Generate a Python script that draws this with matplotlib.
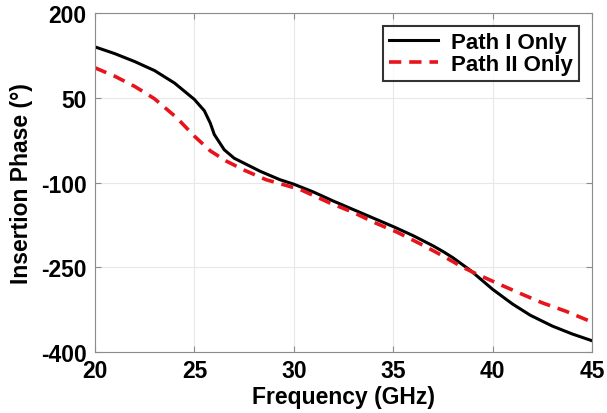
import matplotlib.pyplot as plt
import numpy as np

plt.rcParams['font.family'] = ['Liberation Sans', 'DejaVu Sans']
plt.rcParams['font.weight'] = 'bold'
plt.rcParams['axes.unicode_minus'] = False

# data (frequency in GHz, phase in degrees)
freq_1 = [20, 21, 22, 22.5, 23, 24, 25, 25.5, 25.8, 26.0, 26.5, 27, 28.3, 29.3,
          30, 31, 32, 33, 34, 35, 36, 37, 37.5, 38, 38.9, 40, 41, 41.9, 43, 44, 45]
phase_1 = [140, 128, 114, 106, 98, 76, 47, 27, 5, -15, -42, -57, -80, -95,
           -103, -117, -133, -148, -163, -178, -194, -212, -222, -233, -256, -289,
           -315, -335, -354, -368, -380]
freq_2 = [20, 21, 22, 22.6, 23, 24.1, 25, 25.8, 26.6, 27.5, 28.6, 30.3, 31.8,
          33, 34, 35.2, 36.5, 37.5, 38.5, 39.2, 40.4, 41.5, 42.5, 43.7, 45]
phase_2 = [103, 88, 70, 57, 48, 15, -18, -44, -62, -78, -95, -112, -136,
           -153, -170, -188, -211, -230, -250, -262, -281, -298, -313, -328, -347]

fig = plt.figure(figsize=(6.07, 4.14), dpi=100)
ax = fig.add_axes([0.1565, 0.1473, 0.8188, 0.8189])

ax.plot(freq_1, phase_1, color='black', lw=2.2, label='Path I Only')
ax.plot(freq_2, phase_2, color='#e8141c', lw=2.6, ls=(0, (3.4, 2.2)), label='Path II Only')

ax.set_xlim(20, 45)
ax.set_ylim(-400, 200)
ax.set_xticks([20, 25, 30, 35, 40, 45])
ax.set_yticks([-400, -250, -100, 50, 200])
ax.grid(True, color='#e8e8e8', lw=0.8)
ax.set_axisbelow(True)
for s in ax.spines.values():
    s.set_color('#8c8c8c')
    s.set_linewidth(0.8)
ax.tick_params(direction='in', length=4, color='#8c8c8c', labelsize=16.5,
               top=True, right=True)
ax.tick_params(axis='x', pad=5)
ax.tick_params(axis='y', pad=6)
for lbl in ax.get_xticklabels() + ax.get_yticklabels():
    lbl.set_fontweight('bold')

ax.set_xlabel('Frequency (GHz)', fontsize=16.5, fontweight='bold', labelpad=2)
ax.set_ylabel('Insertion Phase (°)', fontsize=16.5, fontweight='bold', labelpad=6)

leg = ax.legend(loc='upper right', fontsize=16, frameon=True, fancybox=False,
                edgecolor='black', borderpad=0.25, labelspacing=0.05,
                handlelength=2.2, handletextpad=0.6, borderaxespad=0.6)
leg.get_frame().set_linewidth(1.5)
for t in leg.get_texts():
    t.set_fontweight('bold')

fig.savefig('out.png', dpi=100)
